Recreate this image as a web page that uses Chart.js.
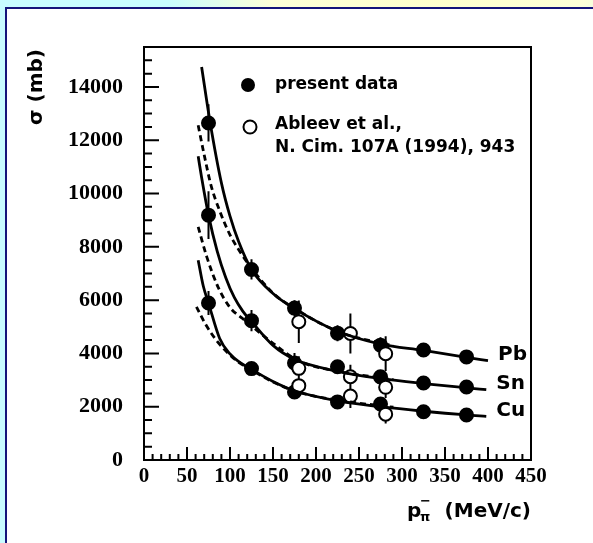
<!DOCTYPE html>
<html lang="en">
<head>
    <meta charset="UTF-8">
    <title>Cross sections vs pion momentum</title>
    <script src="https://cdn.jsdelivr.net/npm/chart.js@4.4.1/dist/chart.umd.min.js"></script>
    <style>
        body {
            margin: 0;
            width: 593px;
            height: 543px;
            overflow: hidden;
            position: relative;
            background: radial-gradient(ellipse 260px 40px at 72% 0%, #ffffcc 0%, #fdffd8 60%, rgba(255,255,220,0) 100%), #c8fcff;
        }
        #frame {
            position: absolute;
            left: 5px;
            top: 7px;
            width: 600px;
            height: 560px;
            border: 2px solid #14147a;
            background: #fff;
        }
        #myChart {
            position: absolute;
            left: 0;
            top: 0;
        }
    </style>
</head>
<body>
    <div id="frame"></div>
    <canvas id="myChart" width="593" height="543"></canvas>

    <script>
        // axis ranges and tick labels
        const xMin = 0, xMax = 450, xMinorStep = 10, xMajorStep = 50;
        const yMin = 0, yMax = 15500, yMinorStep = 500, yMajorStep = 2000;
        const xTicks = [0, 50, 100, 150, 200, 250, 300, 350, 400, 450];
        const yTicks = [0, 2000, 4000, 6000, 8000, 10000, 12000, 14000];

        // present data (filled circles)
        const presentP = [75, 125, 175, 225, 275, 325, 375];
        const presentPb = [12650, 7150, 5700, 4760, 4310, 4130, 3870];
        const presentSn = [9190, 5230, 3640, 3500, 3120, 2890, 2740];
        const presentCu = [5890, 3430, 2550, 2180, 2100, 1810, 1690];
        const presentPbErr = [700, 380, 300, 300, 300, 150, 150];
        const presentSnErr = [900, 400, 375, 200, 200, 150, 150];
        const presentCuErr = [450, 250, 250, 200, 200, 150, 150];

        // Ableev et al. (open circles)
        const ableevP = [180, 240, 281];
        const ableevPb = [5190, 4750, 3990];
        const ableevSn = [3440, 3125, 2730];
        const ableevCu = [2790, 2400, 1720];
        const ableevPbErr = [800, 750, 650];
        const ableevSnErr = [450, 450, 400];
        const ableevCuErr = [400, 450, 350];

        // solid curves
        const solidPbP = [67, 77, 90, 100, 110, 125, 150, 175, 225, 275, 325, 375, 400];
        const solidPb = [14750, 12650, 10400, 9150, 8200, 7150, 6250, 5680, 4830, 4350, 4110, 3850, 3730];
        const solidSnP = [63, 67, 75, 85, 95, 105, 115, 125, 150, 175, 225, 275, 325, 375, 398];
        const solidSn = [11400, 10600, 9190, 7850, 6850, 6100, 5580, 5200, 4300, 3780, 3330, 3060, 2870, 2710, 2640];
        const solidCuP = [63, 69, 75, 88, 100, 111, 125, 150, 175, 225, 275, 325, 375, 398];
        const solidCu = [7500, 6520, 5890, 4560, 3980, 3670, 3400, 2950, 2600, 2220, 2000, 1830, 1690, 1640];

        // dashed curves
        const dashPbP = [63, 70, 78, 88, 100, 112, 125, 150, 175, 225, 290];
        const dashPb = [12560, 11450, 10300, 9350, 8450, 7800, 7200, 6260, 5690, 4830, 4280];
        const dashSnP = [63, 73, 86, 100, 115, 130, 150, 180, 225, 290];
        const dashSn = [8750, 7625, 6500, 5720, 5300, 4900, 4380, 3720, 3330, 3020];
        const dashCuP = [61, 71, 84, 100, 111, 125, 150, 180, 240, 290];
        const dashCu = [5750, 5125, 4500, 3940, 3650, 3380, 2930, 2540, 2180, 1980];

        const elementNames = ['Pb', 'Sn', 'Cu'];

        const pts = (xs, ys) => xs.map((v, i) => ({x: v, y: ys[i]}));

        function curve(xs, ys, dashed) {
            return {
                type: 'line',
                data: pts(xs, ys),
                borderColor: '#000',
                borderWidth: 2.8,
                borderDash: dashed ? [6, 4] : [],
                pointRadius: 0,
                fill: false,
                cubicInterpolationMode: 'monotone'
            };
        }

        function markers(xs, ys, filled) {
            return {
                type: 'scatter',
                data: pts(xs, ys),
                pointRadius: filled ? 6.5 : 6.5,
                pointBackgroundColor: filled ? '#000' : '#fff',
                pointBorderColor: '#000',
                pointBorderWidth: 2,
                showLine: false
            };
        }

        const errorSets = [
            [presentP, presentPb, presentPbErr], [presentP, presentSn, presentSnErr], [presentP, presentCu, presentCuErr],
            [ableevP, ableevPb, ableevPbErr], [ableevP, ableevSn, ableevSnErr], [ableevP, ableevCu, ableevCuErr]
        ];
        const curveEnds = [[solidPbP, solidPb], [solidSnP, solidSn], [solidCuP, solidCu]];

        const decor = {
            id: 'decor',
            beforeDatasetsDraw(chart) {
                const {ctx, chartArea: a, scales: {x, y}} = chart;
                ctx.save();
                ctx.strokeStyle = '#000';
                ctx.lineWidth = 2;
                ctx.strokeRect(a.left, a.top, a.right - a.left, a.bottom - a.top);
                ctx.beginPath();
                for (let v = yMin; v <= yMax; v += yMinorStep) {
                    const py = y.getPixelForValue(v);
                    const len = v % yMajorStep === 0 ? 15 : 8;
                    ctx.moveTo(a.left, py);
                    ctx.lineTo(a.left + len, py);
                }
                for (let v = xMin; v <= xMax; v += xMinorStep) {
                    const px = x.getPixelForValue(v);
                    const len = v % xMajorStep === 0 ? 13 : 6;
                    ctx.moveTo(px, a.bottom);
                    ctx.lineTo(px, a.bottom - len);
                }
                ctx.stroke();
                // error bars
                ctx.beginPath();
                errorSets.forEach(([xs, ys, es]) => {
                    xs.forEach((v, i) => {
                        const px = x.getPixelForValue(v);
                        ctx.moveTo(px, y.getPixelForValue(ys[i] - es[i]));
                        ctx.lineTo(px, y.getPixelForValue(ys[i] + es[i]));
                    });
                });
                ctx.stroke();
                ctx.restore();
            },
            afterDraw(chart) {
                const {ctx, scales: {x, y}} = chart;
                ctx.save();
                ctx.fillStyle = '#000';
                ctx.strokeStyle = '#000';

                // legend
                ctx.beginPath();
                ctx.arc(248, 85, 7, 0, Math.PI * 2);
                ctx.fill();
                ctx.beginPath();
                ctx.lineWidth = 2;
                ctx.arc(250, 127, 6.5, 0, Math.PI * 2);
                ctx.stroke();
                ctx.font = 'bold 17px "DejaVu Sans"';
                ctx.textBaseline = 'middle';
                ctx.textAlign = 'left';
                ctx.fillText('present data', 275, 85);
                ctx.fillText('Ableev et al.,', 275, 125);
                ctx.fillText('N. Cim. 107A (1994), 943', 275, 148);

                // element labels at curve ends
                ctx.font = 'bold 20px "DejaVu Sans"';
                curveEnds.forEach(([xs, ys], i) => {
                    const px = x.getPixelForValue(xs[xs.length - 1]) + 10;
                    const py = y.getPixelForValue(ys[ys.length - 1]) - 6;
                    ctx.fillText(elementNames[i], px, py);
                });

                // y title
                ctx.save();
                ctx.translate(37, 125);
                ctx.rotate(-Math.PI / 2);
                ctx.font = 'bold 20px "DejaVu Sans"';
                ctx.fillText('\u03c3 (mb)', 0, 0);
                ctx.restore();

                // x title: p with sub pi and sup minus
                ctx.font = 'bold 20px "DejaVu Sans"';
                ctx.textBaseline = 'alphabetic';
                ctx.textAlign = 'right';
                ctx.fillText('(MeV/c)', 531, 517);
                ctx.textAlign = 'left';
                ctx.fillText('p', 407, 517);
                ctx.font = 'bold 13px "DejaVu Sans"';
                ctx.fillText('\u03c0', 420, 521);
                ctx.fillText('\u2212', 420, 505);
                ctx.restore();
            }
        };

        const ctx = document.getElementById('myChart').getContext('2d');
        const myChart = new Chart(ctx, {
            data: {
                datasets: [
                    curve(solidPbP, solidPb, false),
                    curve(solidSnP, solidSn, false),
                    curve(solidCuP, solidCu, false),
                    curve(dashPbP, dashPb, true),
                    curve(dashSnP, dashSn, true),
                    curve(dashCuP, dashCu, true),
                    markers(ableevP, ableevPb, false),
                    markers(ableevP, ableevSn, false),
                    markers(ableevP, ableevCu, false),
                    markers(presentP, presentPb, true),
                    markers(presentP, presentSn, true),
                    markers(presentP, presentCu, true)
                ]
            },
            options: {
                responsive: false,
                animation: false,
                devicePixelRatio: 1,
                layout: {padding: {left: 0, top: 47, right: 62, bottom: 0}},
                plugins: {legend: {display: false}, tooltip: {enabled: false}},
                scales: {
                    x: {
                        type: 'linear',
                        min: xMin,
                        max: xMax,
                        grid: {display: false},
                        border: {display: false},
                        afterBuildTicks: s => { s.ticks = xTicks.map(v => ({value: v})); },
                        afterFit: s => { s.height = 83; },
                        ticks: {
                            color: '#000',
                            padding: -4,
                            maxRotation: 0,
                            autoSkip: false,
                            callback: v => String(v),
                            font: {family: '"Liberation Serif"', weight: 'bold', size: 21}
                        }
                    },
                    y: {
                        type: 'linear',
                        min: yMin,
                        max: yMax,
                        grid: {display: false},
                        border: {display: false},
                        afterBuildTicks: s => { s.ticks = yTicks.map(v => ({value: v})); },
                        afterFit: s => { s.width = 144; },
                        ticks: {
                            color: '#000',
                            padding: 13,
                            autoSkip: false,
                            callback: v => String(v),
                            font: {family: '"Liberation Serif"', weight: 'bold', size: 22}
                        }
                    }
                }
            },
            plugins: [decor]
        });
    </script>
</body>
</html>
